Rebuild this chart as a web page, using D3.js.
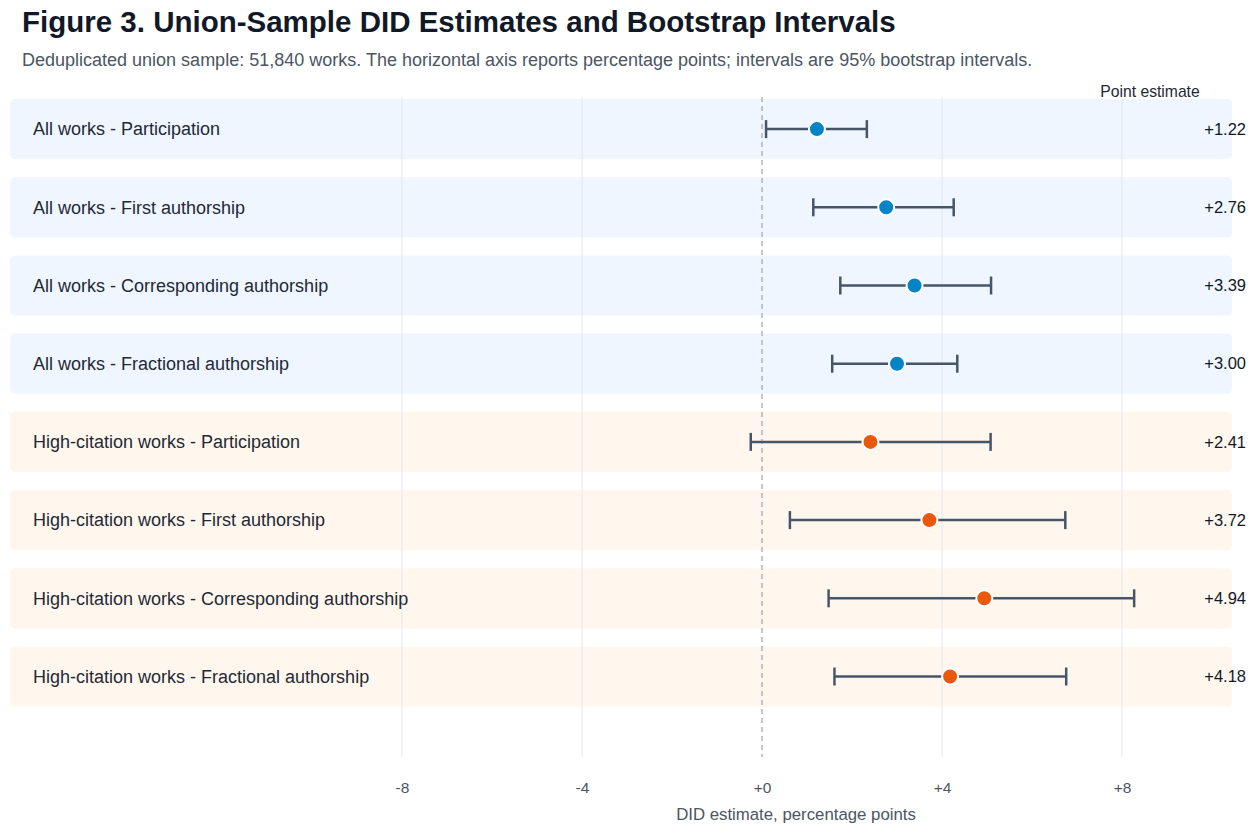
<!DOCTYPE html>
<html>
<head>
<meta charset="utf-8">
<script src="https://cdn.jsdelivr.net/npm/d3@7"></script>
<style>
  body { margin: 0; background: #fff; }
  svg text { font-family: "Liberation Sans", Arial, Helvetica, sans-serif; }
</style>
</head>
<body>
<svg class="chart" width="1255" height="833"></svg>
<script>
// data
var labels = [
  "All works - Participation",
  "All works - First authorship",
  "All works - Corresponding authorship",
  "All works - Fractional authorship",
  "High-citation works - Participation",
  "High-citation works - First authorship",
  "High-citation works - Corresponding authorship",
  "High-citation works - Fractional authorship"
]
var groups = ["all", "all", "all", "all", "high", "high", "high", "high"]
var estimates = [1.22, 2.76, 3.39, 3.00, 2.41, 3.72, 4.94, 4.18]
var lower = [0.09, 1.14, 1.74, 1.56, -0.25, 0.62, 1.48, 1.61]
var upper = [2.33, 4.26, 5.09, 4.34, 5.08, 6.74, 8.27, 6.76]
var ticks = [-8, -4, 0, 4, 8]

var width = 1255
    height = 833

var bandFill = { all: "#eff6ff", high: "#fff7ed" }
var dotFill = { all: "#0284c7", high: "#ea580c" }

const svg = d3.select(".chart")

// x scale: percentage points
const x = d3.scaleLinear().domain([-8, 8]).range([402, 1122])

// one row per estimate, step 78px
var pad = 0.23
var top0 = 99
const y = d3.scaleBand()
  .domain(d3.range(labels.length))
  .range([top0, top0 + 78.2 * (labels.length - pad)])
  .paddingInner(pad)
  .paddingOuter(0)

var rows = labels.map(function(l, i) {
  return { label: l, group: groups[i], est: estimates[i], lo: lower[i], hi: upper[i], i: i }
})

// title + subtitle
svg.append("text")
  .attr("x", 22).attr("y", 32)
  .style("font-size", "29.5px").style("font-weight", "bold")
  .attr("fill", "#111827")
  .text("Figure 3. Union-Sample DID Estimates and Bootstrap Intervals")

svg.append("text")
  .attr("x", 22).attr("y", 66)
  .style("font-size", "18px")
  .attr("fill", "#4b5563")
  .text("Deduplicated union sample: 51,840 works. The horizontal axis reports percentage points; intervals are 95% bootstrap intervals.")

// row backgrounds
svg.selectAll(".band")
  .data(rows)
  .enter()
  .append("rect")
  .attr("class", "band")
  .attr("x", 10)
  .attr("width", 1222)
  .attr("y", d => y(d.i))
  .attr("height", y.bandwidth())
  .attr("rx", 5)
  .attr("fill", d => bandFill[d.group])

// vertical grid
var gridTop = 97, gridBottom = 757
svg.selectAll(".grid")
  .data(ticks.filter(t => t != 0))
  .enter()
  .append("line")
  .attr("x1", d => x(d)).attr("x2", d => x(d))
  .attr("y1", gridTop).attr("y2", gridBottom)
  .attr("stroke", "#e5e7eb")
  .attr("stroke-width", 1)

svg.append("line")
  .attr("x1", x(0)).attr("x2", x(0))
  .attr("y1", gridTop).attr("y2", gridBottom)
  .attr("stroke", "#9ca3af")
  .attr("stroke-width", 1.2)
  .attr("stroke-dasharray", "5,4")

// row labels
svg.selectAll(".label")
  .data(rows)
  .enter()
  .append("text")
  .attr("x", 33)
  .attr("y", d => y(d.i) + y.bandwidth() / 2)
  .attr("dy", "0.35em")
  .style("font-size", "18px")
  .attr("fill", "#1f2937")
  .text(d => d.label)

// intervals
var ci = svg.selectAll(".ci")
  .data(rows)
  .enter()
  .append("g")
  .attr("transform", d => "translate(0," + (y(d.i) + y.bandwidth() / 2) + ")")

ci.append("line")
  .attr("x1", d => x(d.lo)).attr("x2", d => x(d.hi))
  .attr("stroke", "#475569").attr("stroke-width", 2.5)

ci.append("line")
  .attr("x1", d => x(d.lo)).attr("x2", d => x(d.lo))
  .attr("y1", -9).attr("y2", 9)
  .attr("stroke", "#475569").attr("stroke-width", 2.5)

ci.append("line")
  .attr("x1", d => x(d.hi)).attr("x2", d => x(d.hi))
  .attr("y1", -9).attr("y2", 9)
  .attr("stroke", "#475569").attr("stroke-width", 2.5)

ci.append("circle")
  .attr("cx", d => x(d.est))
  .attr("r", 8)
  .attr("fill", d => dotFill[d.group])
  .attr("stroke", "#fff")
  .attr("stroke-width", 2)

// point estimate column
var fmt = d3.format("+.2f")
svg.append("text")
  .attr("x", 1150).attr("y", 97)
  .attr("text-anchor", "middle")
  .style("font-size", "15.7px")
  .attr("fill", "#1f2937")
  .text("Point estimate")

svg.selectAll(".val")
  .data(rows)
  .enter()
  .append("text")
  .attr("x", 1246)
  .attr("y", d => y(d.i) + y.bandwidth() / 2)
  .attr("dy", "0.35em")
  .attr("text-anchor", "end")
  .style("font-size", "16.5px")
  .attr("fill", "#111827")
  .text(d => fmt(d.est))

// x axis (labels only)
const axis = svg.append("g")
  .attr("transform", "translate(0," + 774 + ")")
  .call(d3.axisBottom(x).tickValues(ticks).tickSize(0).tickPadding(8)
    .tickFormat(d => (d >= 0 ? "+" : "") + d))
axis.select(".domain").remove()
axis.selectAll("text")
  .style("font-size", "15.5px")
  .style("font-family", "'Liberation Sans', Arial, sans-serif")
  .attr("fill", "#4b5563")

svg.append("text")
  .attr("x", 796).attr("y", 820)
  .attr("text-anchor", "middle")
  .style("font-size", "16.8px")
  .attr("fill", "#4b5563")
  .text("DID estimate, percentage points")
</script>
</body>
</html>
